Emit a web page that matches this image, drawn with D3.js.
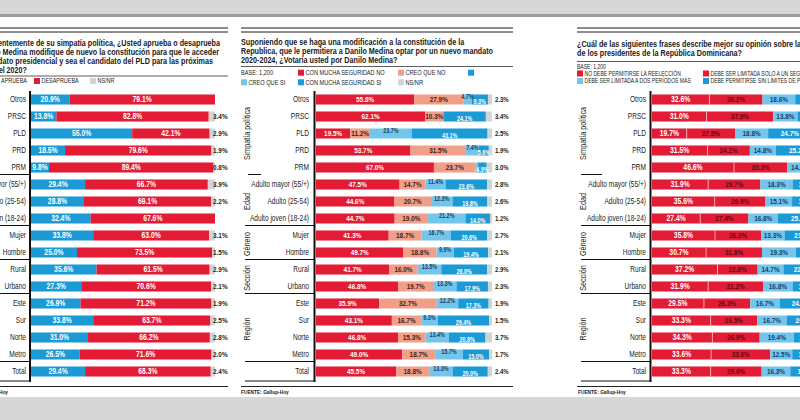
<!DOCTYPE html>
<html>
<head>
<meta charset="utf-8">
<script src="https://cdn.jsdelivr.net/npm/d3@7"></script>
<style>
	body { margin: 0; background: #fff; }
	svg { display: block; font-family: "Liberation Sans", Arial, sans-serif; }
</style>
</head>
<body>
<div id="chart-area"></div>
<script>

// rows shared by the three charts
var categories = ["Otros", "PRSC", "PLD", "PRD", "PRM",
	"Adulto mayor (55/+)", "Adulto (25-54)", "Adulto joven (18-24)",
	"Mujer", "Hombre", "Rural", "Urbano",
	"Este", "Sur", "Norte", "Metro", "Total"];
var groupNames = ["Simpatía política", "Edad", "Género", "Sección", "Región", ""];
var groupSizes = [5, 3, 2, 2, 4, 1];

// chart 1: aprueba / desaprueba
var aprueba    = [20.9, 13.8, 55.0, 18.5, 9.8, 29.4, 28.8, 32.4, 33.8, 25.0, 35.6, 27.3, 26.9, 33.8, 31.0, 26.5, 29.4];
var desaprueba = [79.1, 82.8, 42.1, 79.6, 89.4, 66.7, 69.1, 67.6, 63.0, 73.5, 61.5, 70.6, 71.2, 63.7, 66.2, 71.6, 68.3];
var nsnrAprueba = [0, 3.4, 2.9, 1.9, 0.8, 3.9, 2.2, 0, 3.1, 1.5, 2.9, 2.1, 1.9, 2.5, 2.8, 2.0, 2.4];

// chart 2: votaria por Danilo Medina
var muchaNo  = [55.8, 62.1, 19.5, 53.7, 67.0, 47.5, 44.6, 44.7, 41.3, 49.7, 41.7, 46.8, 35.9, 43.1, 46.8, 49.0, 45.5];
var creoNo   = [27.9, 10.3, 11.2, 31.5, 23.7, 14.7, 20.7, 19.0, 18.7, 18.8, 16.0, 19.7, 32.7, 16.7, 15.3, 18.7, 18.8];
var creoSi   = [4.7, 0, 23.7, 7.4, 1.4, 11.4, 12.3, 21.2, 16.7, 9.9, 13.5, 13.3, 12.2, 9.3, 13.4, 15.7, 13.3];
var muchaSi  = [9.3, 24.1, 43.1, 5.6, 4.9, 23.6, 19.8, 14.0, 20.6, 19.4, 26.0, 17.9, 17.3, 29.4, 20.8, 15.0, 20.0];
var nsnrVoto = [2.3, 3.4, 2.5, 1.9, 3.0, 2.8, 2.6, 1.2, 2.7, 2.1, 2.9, 2.3, 1.9, 1.5, 3.7, 1.7, 2.4];

// chart 3: reeleccion (cut off at the right edge)
var noReeleccion = [32.6, 31.0, 19.7, 31.5, 46.6, 31.9, 35.6, 27.4, 35.8, 30.7, 37.2, 31.9, 29.5, 33.3, 34.3, 33.6, 33.3];
var unPeriodo    = [30.2, 37.9, 27.5, 24.1, 30.3, 29.7, 28.9, 27.4, 26.2, 31.8, 22.8, 31.2, 26.3, 26.5, 26.9, 33.6, 29.0];
var dosPeriodos  = [18.6, 13.8, 18.8, 14.8, 14.6, 18.3, 15.1, 16.8, 13.3, 19.3, 14.7, 16.8, 16.7, 16.7, 19.4, 12.5, 16.3];
var sinLimites   = [15.0, 14.5, 24.7, 25.2, 6.0, 17.0, 17.5, 25.1, 21.5, 15.5, 22.0, 17.0, 24.0, 20.5, 16.5, 17.5, 18.5];

var titleAprueba = ["Independientemente de su simpatía política, ¿Usted aprueba o desaprueba",
	"que Danilo Medina modifique de nuevo la constitución para que le acceder",
	"a un nuevo mandato presidencial y sea el candidato del PLD para las próximas",
	"elecciones del 2020?"];
var titleVoto = ["Suponiendo que se haga una modificación a la constitución de la",
	"Republica, que le permitiera a Danilo Medina optar por un nuevo mandato",
	"2020-2024, ¿Votaría usted por Danilo Medina?"];
var titleReeleccion = ["¿Cuál de las siguientes frases describe mejor su opinión sobre la reelección",
	"de los presidentes de la República Dominicana?"];

var RED = "#e31b34", BLUE = "#1b9ad6", LBLUE = "#74c5ec", SALMON = "#f19f88", GRAY = "#d3d3d3";
var CONDENSE = 0.8;

var width = 800, height = 420;
var svg = d3.select("#chart-area").append("svg")
	.attr("width", width)
	.attr("height", height);

// page background
svg.append("rect").attr("width", width).attr("height", height).attr("fill", "#d7d7d7");
svg.append("rect").attr("y", 14).attr("width", width).attr("height", 3).attr("fill", "#9d9d9d");
svg.append("rect").attr("y", 17).attr("width", width).attr("height", 380).attr("fill", "#fff");

var yScale = d3.scaleBand()
	.domain(categories)
	.range([91, 380])
	.paddingInner(0.41)
	.paddingOuter(0.205);

var panels = [
	{
		left: 0, right: 228, range: [31, 215], axisX: 30, labelX: 26, sepX: 0, shortSep: null, groupX: null,
		keys: ["aprueba", "desaprueba", "nsnr"],
		series: [aprueba, desaprueba, nsnrAprueba],
		colors: [BLUE, RED, GRAY],
		labels: [{fill: "#fff", size: 8.5}, {fill: "#fff", size: 8.5}, {out: true, dx: -2, fill: "#222", size: 8}],
		title: titleAprueba, titleAnchor: "end", titleX: [220, 219, 213, 27], titleY: [46, 55, 64, 72.5],
		titleRule: 76,
		legend: [
			{x: 27, y: 81, text: "APRUEBA", anchor: "end"},
			{x: 34, y: 81, sq: RED, text: "DESAPRUEBA"},
			{x: 90, y: 81, sq: GRAY, text: "NS/NR"}
		],
		legendSize: 6.8,
		source: {x: 8, anchor: "end"}
	},
	{
		left: 241, right: 513, range: [316, 492], axisX: 314.5, labelX: 309, sepX: 245, shortSep: [248, 261], groupX: 250,
		keys: ["muchaNo", "creoNo", "creoSi", "muchaSi", "nsnr"],
		series: [muchaNo, creoNo, creoSi, muchaSi, nsnrVoto],
		colors: [RED, SALMON, LBLUE, BLUE, GRAY],
		labels: [{fill: "#fff", size: 8}, {fill: "#3b2323", size: 8},
			{fill: "#17405f", size: 6.8, dy: -2.5}, {fill: "#fff", size: 6.8, dy: 2.5},
			{out: true, dx: 3, fill: "#222", size: 7.5}],
		title: titleVoto, titleAnchor: "start", titleX: [241, 241, 241], titleY: [45, 54, 62.5],
		titleRule: 66.5,
		legend: [
			{x: 241, y: 72.7, text: "BASE: 1,200"},
			{x: 298, y: 72.7, sq: RED, text: "CON MUCHA SEGURIDAD NO"},
			{x: 398, y: 72.7, sq: SALMON, text: "CREO QUE NO"},
			{x: 468, y: 72.7, sq: BLUE, text: ""},
			{x: 241, y: 82.3, sq: LBLUE, text: "CREO QUE SI"},
			{x: 298, y: 82.3, sq: BLUE, text: "CON MUCHA SEGURIDAD SI"},
			{x: 398, y: 82.3, sq: GRAY, text: "NS/NR"}
		],
		legendSize: 7,
		source: {x: 241, anchor: "start"}
	},
	{
		left: 577, right: 800, range: [652, 828], axisX: 650.5, labelX: 646, sepX: 581, shortSep: [581, 602], groupX: 586,
		keys: ["noReeleccion", "unPeriodo", "dosPeriodos", "sinLimites"],
		series: [noReeleccion, unPeriodo, dosPeriodos, sinLimites],
		colors: [RED, RED, LBLUE, BLUE],
		split: true,
		labels: [{fill: "#fff", size: 8.5}, {fill: "#5a0c16", size: 8}, {fill: "#17405f", size: 8}, {fill: "#fff", size: 8}],
		title: titleReeleccion, titleAnchor: "start", titleX: [577, 577], titleY: [46.5, 56],
		titleRule: 61.5,
		legend: [
			{x: 577, y: 66.7, text: "BASE: 1,200"},
			{x: 577, y: 73.5, sq: RED, text: "NO DEBE PERMITIRSE LA REELECCIÓN"},
			{x: 703, y: 73.5, sq: RED, text: "DEBE SER LIMITADA SOLO A UN SEGUNDO PERÍODO"},
			{x: 577, y: 81, sq: LBLUE, text: "DEBE SER LIMITADA A DOS PERÍODOS MÁS"},
			{x: 703, y: 81, sq: BLUE, text: "DEBE PERMITIRSE SIN LÍMITES DE PERÍODOS"}
		],
		legendSize: 6.3,
		source: {x: 578, anchor: "start"}
	}
];

var drawPanel = function(p) {
	var g = svg.append("g");

	// double rule at the top of each box
	[28, 32].forEach(function(yy) {
		g.append("rect").attr("x", p.left).attr("y", yy - 1).attr("width", p.right - p.left).attr("height", 2).attr("fill", "#8c8c8c");
	});

	// title
	p.titleNodes = g.selectAll(".title").data(p.title).enter().append("text")
		.attr("class", "title")
		.attr("x", function(d, i) { return p.titleX[i]; })
		.attr("y", function(d, i) { return p.titleY[i]; })
		.attr("text-anchor", p.titleAnchor)
		.attr("font-size", 8.6)
		.attr("font-weight", "bold")
		.attr("fill", "#1a1a1a")
		.text(function(d) { return d; });

	g.append("line")
		.attr("x1", p.left).attr("x2", p.right)
		.attr("y1", p.titleRule).attr("y2", p.titleRule)
		.attr("stroke", "#333").attr("stroke-width", 0.8);

	// legend
	p.legend.forEach(function(l) {
		var tx = l.x;
		if (l.sq) {
			g.append("rect").attr("x", l.x).attr("y", l.y - 3).attr("width", 6).attr("height", 6).attr("fill", l.sq);
			tx = l.x + 7.5;
		}
		g.append("text")
			.attr("class", "cond")
			.attr("x", tx).attr("y", l.y).attr("dy", "0.35em")
			.attr("text-anchor", l.anchor || "start")
			.attr("font-size", p.legendSize)
			.attr("fill", "#222")
			.text(l.text);
	});

	// bars
	var x = d3.scaleLinear().domain([0, 100]).range(p.range);

	var table = categories.map(function(c, i) {
		var row = {cat: c};
		p.keys.forEach(function(k, j) { row[k] = p.series[j][i]; });
		return row;
	});
	var layers = d3.stack().keys(p.keys)(table);

	layers.forEach(function(layer, j) {
		g.selectAll(null).data(layer).enter().append("rect")
			.attr("x", function(d) { return x(d[0]); })
			.attr("y", function(d) { return yScale(d.data.cat); })
			.attr("width", function(d) { return x(d[1]) - x(d[0]); })
			.attr("height", yScale.bandwidth())
			.attr("fill", p.colors[j]);
	});

	if (p.split) {
		g.selectAll(null).data(layers[0]).enter().append("line")
			.attr("x1", function(d) { return x(d[1]); })
			.attr("x2", function(d) { return x(d[1]); })
			.attr("y1", function(d) { return yScale(d.data.cat); })
			.attr("y2", function(d) { return yScale(d.data.cat) + yScale.bandwidth(); })
			.attr("stroke", "#f6c4c9").attr("stroke-width", 0.8);
	}

	layers.forEach(function(layer, j) {
		var s = p.labels[j];
		var minVal = s.out ? 0.5 : 3;
		g.selectAll(null).data(layer.filter(function(d) { return d.data[layer.key] >= minVal; }))
			.enter().append("text")
			.attr("class", "cond")
			.attr("x", function(d) { return s.out ? x(100) + s.dx : (x(d[0]) + x(d[1])) / 2; })
			.attr("y", function(d) { return yScale(d.data.cat) + yScale.bandwidth() / 2 + (s.dy || 0); })
			.attr("dy", "0.35em")
			.attr("text-anchor", s.out ? "start" : "middle")
			.attr("font-size", s.size)
			.attr("font-weight", "bold")
			.attr("fill", s.fill)
			.text(function(d) { return d.data[layer.key].toFixed(1) + "%"; });
	});

	// row labels
	g.selectAll(null).data(categories).enter().append("text")
		.attr("class", "cond")
		.attr("x", p.labelX)
		.attr("y", function(d) { return yScale(d) + yScale.bandwidth() / 2; })
		.attr("dy", "0.35em")
		.attr("text-anchor", "end")
		.attr("font-size", 8.2)
		.attr("fill", "#222")
		.text(function(d) { return d; });

	// group separators and group names
	var gap = (yScale.step() - yScale.bandwidth()) / 2;
	var start = 0;
	groupSizes.forEach(function(n, gi) {
		var first = categories[start], last = categories[start + n - 1];
		if (start > 0) {
			var yy = yScale(first) - gap - 1.5;
			var xs = (gi === 1 && p.shortSep) ? p.shortSep : [p.sepX, p.axisX];
			g.append("line")
				.attr("x1", xs[0]).attr("x2", xs[1])
				.attr("y1", yy).attr("y2", yy)
				.attr("stroke", "#111").attr("stroke-width", 1);
		}
		if (p.groupX !== null && groupNames[gi]) {
			var cy = (yScale(first) + yScale(last) + yScale.bandwidth()) / 2;
			g.append("text")
				.attr("class", "cond")
				.attr("transform", "translate(" + p.groupX + "," + cy + ") rotate(-90)")
				.attr("text-anchor", "middle")
				.attr("font-size", 9)
				.attr("fill", "#222")
				.text(groupNames[gi]);
		}
		start += n;
	});
	g.append("line")
		.attr("x1", p.sepX).attr("x2", p.axisX)
		.attr("y1", 381).attr("y2", 381)
		.attr("stroke", "#111").attr("stroke-width", 1);

	// vertical axis line
	g.append("line")
		.attr("x1", p.axisX).attr("x2", p.axisX)
		.attr("y1", 91).attr("y2", 382)
		.attr("stroke", "#111").attr("stroke-width", 2);

	// source
	g.append("line")
		.attr("x1", p.left).attr("x2", p.right)
		.attr("y1", 386.5).attr("y2", 386.5)
		.attr("stroke", "#222").attr("stroke-width", 1);
	g.append("text")
		.attr("class", "cond")
		.attr("x", p.source.x).attr("y", 391.5).attr("dy", "0.35em")
		.attr("text-anchor", p.source.anchor)
		.attr("font-size", 6)
		.attr("font-weight", "bold")
		.attr("fill", "#222")
		.text("FUENTE: Gallup-Hoy");
};

panels.forEach(drawPanel);

// the printed face is a condensed sans: squeeze the texts to its widths
var squeeze = function(node, k) {
	var w = node.getComputedTextLength();
	if (w > 0) {
		d3.select(node).attr("textLength", w * k).attr("lengthAdjust", "spacingAndGlyphs");
	}
};
var ref = panels[1].titleNodes.nodes()[1];
var titleK = 252 / ref.getComputedTextLength();
panels.forEach(function(p) {
	p.titleNodes.each(function() { squeeze(this, titleK); });
});
svg.selectAll("text.cond").each(function() { squeeze(this, CONDENSE); });

</script>
</body>
</html>
